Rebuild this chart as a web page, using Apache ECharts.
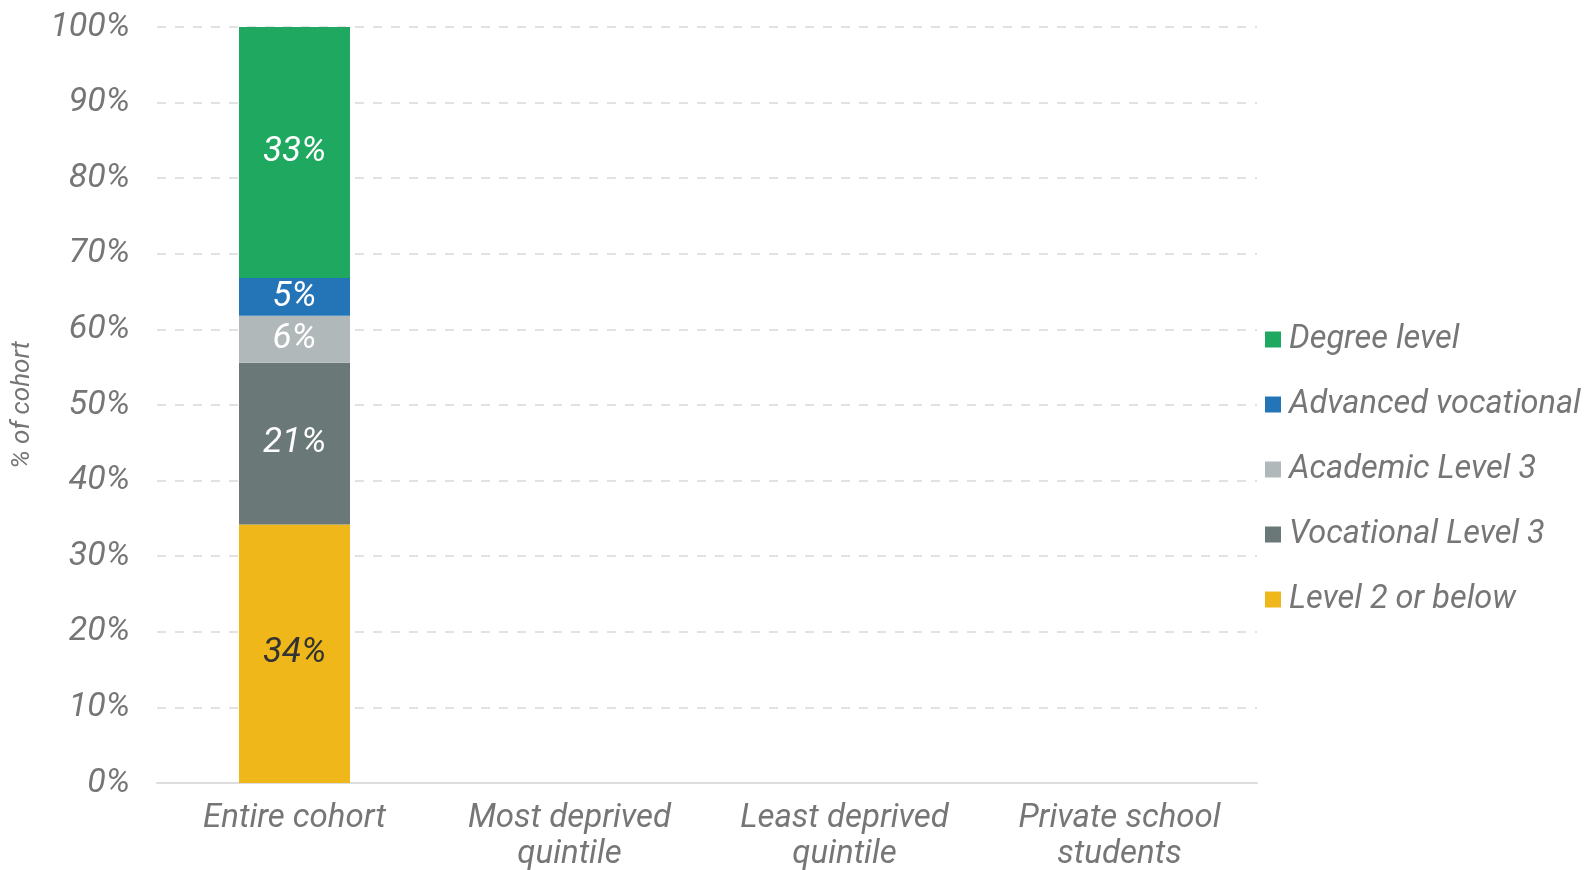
<!DOCTYPE html>
<html>
<head>
<meta charset="utf-8">
<script src="https://cdn.jsdelivr.net/npm/echarts@6/dist/echarts.min.js"></script>
<style>
html,body{margin:0;padding:0;background:#fff;}
#chart{width:1593px;height:870px;}
</style>
</head>
<body>
<div id="chart"></div>
<script>
const categories = ['Entire cohort', 'Most deprived\nquintile', 'Least deprived\nquintile', 'Private school\nstudents'];
const level2 = [34.2, null, null, null];
const vocational3 = [21.4, null, null, null];
const academic3 = [6.2, null, null, null];
const advancedVoc = [5.0, null, null, null];
const degree = [33.2, null, null, null];
const yTicks = [0, 10, 20, 30, 40, 50, 60, 70, 80, 90, 100];

const FONT = 'Roboto';
const GREY = '#767676';

function mk(name, data, color, labelColor) {
  return {
    name: name, type: 'bar', stack: 'total', data: data, barWidth: 111,
    itemStyle: { color: color },
    label: {
      show: true, position: 'inside', color: labelColor,
      fontFamily: FONT, fontStyle: 'italic', fontSize: 35,
      formatter: p => Math.round(p.value) + '%'
    },
    emphasis: { disabled: true }
  };
}

const chart = echarts.init(document.getElementById('chart'), null, { renderer: 'canvas' });
chart.setOption({
  animation: false,
  backgroundColor: '#fff',
  grid: { left: 157, right: 336, top: 27, bottom: 87, containLabel: false, outerBoundsMode: 'none' },
  legend: {
    orient: 'vertical', left: 1265, top: 323, padding: 0,
    data: ['Degree level', 'Advanced vocational', 'Academic Level 3', 'Vocational Level 3', 'Level 2 or below'],
    icon: 'rect', itemWidth: 16, itemHeight: 16, itemGap: 32,
    textStyle: { color: GREY, fontFamily: FONT, fontStyle: 'italic', fontSize: 32.5, lineHeight: 32, padding: [0, 0, 0, 3] },
    selectedMode: false
  },
  xAxis: {
    type: 'category', data: categories,
    axisLine: { lineStyle: { color: '#dddddd', width: 2 } },
    axisTick: { show: false },
    axisLabel: { color: GREY, fontFamily: FONT, fontStyle: 'italic', fontSize: 33, lineHeight: 36, margin: 18, interval: 0 }
  },
  yAxis: {
    type: 'value', min: 0, max: 100, interval: 10,
    name: '% of cohort', nameLocation: 'middle', nameGap: 122, nameRotate: 90,
    nameTextStyle: { color: GREY, fontFamily: FONT, fontStyle: 'italic', fontSize: 26 },
    axisLine: { show: false }, axisTick: { show: false },
    axisLabel: { color: GREY, fontFamily: FONT, fontStyle: 'italic', fontSize: 34, margin: 27,
      formatter: v => yTicks.includes(v) ? v + '%' : '' },
    splitLine: { lineStyle: { color: '#e2e2e2', width: 2, type: [9, 9] } }
  },
  series: [
    mk('Level 2 or below', level2, '#f0b71a', '#333333'),
    mk('Vocational Level 3', vocational3, '#6a7878', '#ffffff'),
    mk('Academic Level 3', academic3, '#b1b8b9', '#ffffff'),
    mk('Advanced vocational', advancedVoc, '#2474b8', '#ffffff'),
    mk('Degree level', degree, '#1fa85f', '#ffffff')
  ]
});
</script>
</body>
</html>
